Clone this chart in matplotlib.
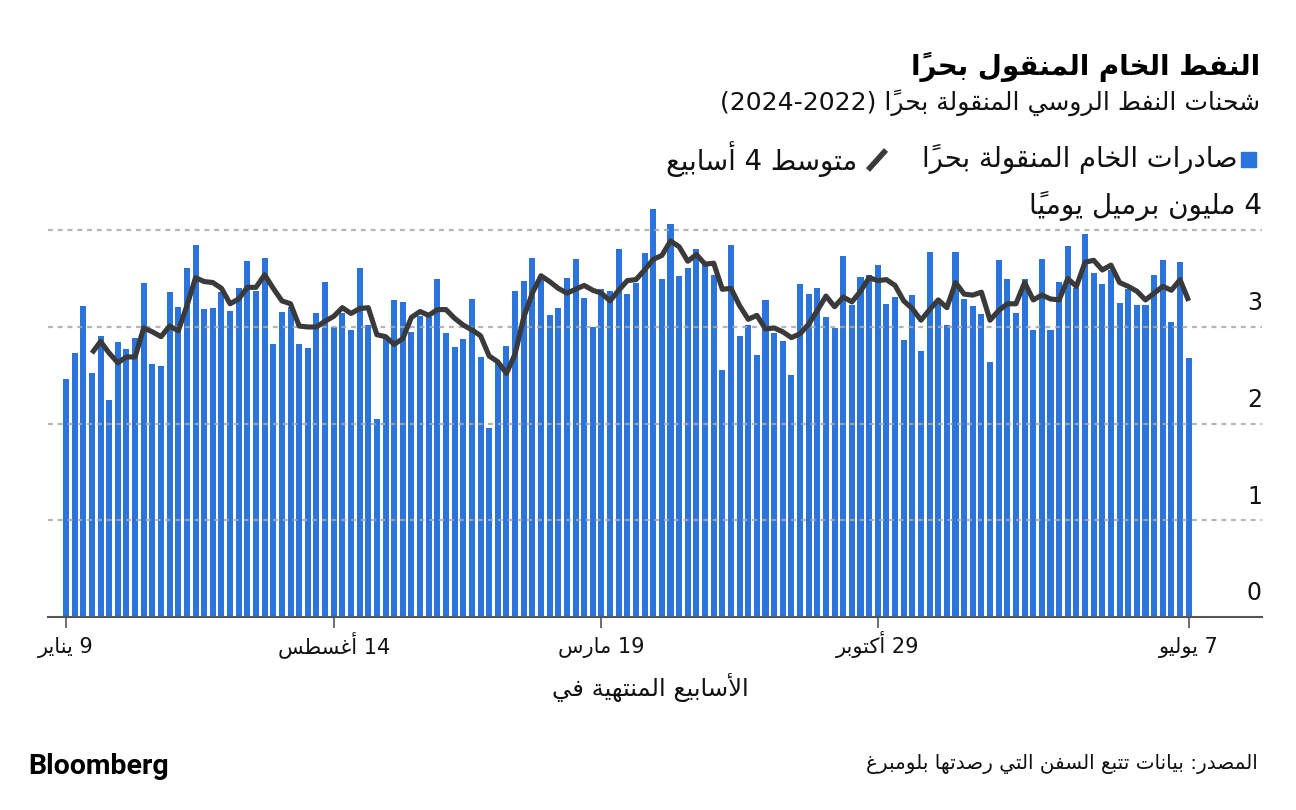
import matplotlib
matplotlib.use("Agg")
import matplotlib.pyplot as plt
from matplotlib.lines import Line2D
from matplotlib.patches import Rectangle

# ---- data (million barrels per day, weekly) ----
weekly_exports = [
    2.46, 2.73, 3.22, 2.52, 2.91, 2.24, 2.84, 2.77, 2.89, 3.46,
    2.62, 2.60, 3.36, 3.21, 3.61, 3.85, 3.19, 3.20, 3.36, 3.17,
    3.40, 3.68, 3.37, 3.71, 2.82, 3.16, 3.21, 2.82, 2.78, 3.14,
    3.47, 3.00, 3.14, 2.97, 3.61, 3.02, 2.05, 2.89, 3.28, 3.26,
    2.95, 3.11, 3.10, 3.50, 2.94, 2.79, 2.88, 3.29, 2.69, 1.96,
    2.63, 2.80, 3.37, 3.48, 3.71, 3.52, 3.12, 3.20, 3.51, 3.70,
    3.30, 3.00, 3.39, 3.37, 3.81, 3.34, 3.45, 3.77, 4.22, 3.50,
    4.07, 3.53, 3.61, 3.81, 3.66, 3.54, 2.56, 3.85, 2.91, 3.02,
    2.71, 3.28, 2.94, 2.85, 2.50, 3.44, 3.34, 3.40, 3.10, 2.99,
    3.73, 3.23, 3.52, 3.54, 3.64, 3.24, 3.31, 2.87, 3.33, 2.75,
    3.78, 3.25, 3.02, 3.78, 3.29, 3.22, 3.13, 2.64, 3.69, 3.50,
    3.14, 3.50, 2.97, 3.70, 2.97, 3.47, 3.84, 3.40, 3.96, 3.56,
    3.44, 3.59, 3.25, 3.39, 3.23, 3.23, 3.54, 3.69, 3.05, 3.67,
    2.68,
]

# 4-week average, starts at the 4th week
avg_start = 3
four_week_avg = [
    2.73, 2.85, 2.73, 2.63, 2.69, 2.69, 2.99, 2.95, 2.90, 3.01,
    2.96, 3.22, 3.51, 3.47, 3.46, 3.40, 3.24, 3.29, 3.41, 3.41,
    3.54, 3.40, 3.27, 3.24, 3.01, 3.00, 3.00, 3.06, 3.11, 3.20,
    3.14, 3.19, 3.20, 2.92, 2.90, 2.82, 2.88, 3.10, 3.16, 3.12,
    3.18, 3.18, 3.09, 3.02, 2.97, 2.91, 2.70, 2.64, 2.52, 2.72,
    3.10, 3.35, 3.53, 3.47, 3.40, 3.35, 3.39, 3.43, 3.38, 3.35,
    3.27, 3.38, 3.48, 3.49, 3.59, 3.70, 3.74, 3.89, 3.83, 3.68,
    3.75, 3.65, 3.66, 3.39, 3.40, 3.22, 3.08, 3.12, 2.98, 2.99,
    2.95, 2.89, 2.93, 3.03, 3.17, 3.32, 3.21, 3.31, 3.26, 3.37,
    3.51, 3.48, 3.49, 3.43, 3.27, 3.19, 3.07, 3.18, 3.28, 3.20,
    3.46, 3.34, 3.33, 3.36, 3.07, 3.17, 3.24, 3.24, 3.46, 3.28,
    3.33, 3.29, 3.28, 3.50, 3.42, 3.67, 3.69, 3.59, 3.64, 3.46,
    3.42, 3.37, 3.28, 3.35, 3.42, 3.38, 3.49, 3.27,
]

tick_weeks = [0, 31, 62, 94, 130]
tick_labels = ["9 يناير", "14 أغسطس", "19 مارس", "29 أكتوبر", "7 يوليو"]
y_values = [0, 1, 2, 3]

title = "النفط الخام المنقول بحراً"
subtitle = "شحنات النفط الروسي المنقولة بحراً (2022-2024)"
legend_bars = "صادرات الخام المنقولة بحراً"
legend_line = "متوسط 4 أسابيع"
y_unit = "4 مليون برميل يومياً"
x_title = "الأسابيع المنتهية في"
source = "المصدر: بيانات تتبع السفن التي رصدتها بلومبرغ"

BLUE = "#2b74dc"
DARK = "#3a3a3a"


# ---- minimal arabic shaping + right-to-left ordering (matplotlib has none) ----
FORMS = {
    "\u0621": (0xFE80, 1), "\u0622": (0xFE81, 2), "\u0623": (0xFE83, 2),
    "\u0624": (0xFE85, 2), "\u0625": (0xFE87, 2), "\u0626": (0xFE89, 4),
    "\u0627": (0xFE8D, 2), "\u0628": (0xFE8F, 4), "\u0629": (0xFE93, 2),
    "\u062A": (0xFE95, 4), "\u062B": (0xFE99, 4), "\u062C": (0xFE9D, 4),
    "\u062D": (0xFEA1, 4), "\u062E": (0xFEA5, 4), "\u062F": (0xFEA9, 2),
    "\u0630": (0xFEAB, 2), "\u0631": (0xFEAD, 2), "\u0632": (0xFEAF, 2),
    "\u0633": (0xFEB1, 4), "\u0634": (0xFEB5, 4), "\u0635": (0xFEB9, 4),
    "\u0636": (0xFEBD, 4), "\u0637": (0xFEC1, 4), "\u0638": (0xFEC5, 4),
    "\u0639": (0xFEC9, 4), "\u063A": (0xFECD, 4), "\u0641": (0xFED1, 4),
    "\u0642": (0xFED5, 4), "\u0643": (0xFED9, 4), "\u0644": (0xFEDD, 4),
    "\u0645": (0xFEE1, 4), "\u0646": (0xFEE5, 4), "\u0647": (0xFEE9, 4),
    "\u0648": (0xFEED, 2), "\u0649": (0xFEEF, 2), "\u064A": (0xFEF1, 4),
}
LAM_ALEF = {"\u0622": 0xFEF5, "\u0623": 0xFEF7, "\u0625": 0xFEF9, "\u0627": 0xFEFB}
MIRROR = {"(": ")", ")": "("}


def is_mark(c):
    return "\u064B" <= c <= "\u0652"


def ar(text):
    items = []  # [char, marks, lam-alef partner]
    i = 0
    while i < len(text):
        c = text[i]
        if is_mark(c) and items:
            items[-1][1] += c
        elif c == "\u0644" and i + 1 < len(text) and text[i + 1] in LAM_ALEF:
            items.append([c, "", text[i + 1]])
            i += 1
        else:
            items.append([c, "", None])
        i += 1

    def joins_left(it):
        return it[2] is None and it[0] in FORMS and FORMS[it[0]][1] == 4

    def arabic(it):
        return it[0] in FORMS

    clusters = []
    for k, it in enumerate(items):
        c = it[0]
        prev = k > 0 and joins_left(items[k - 1])
        if it[2] is not None:
            g = chr(LAM_ALEF[it[2]] + (1 if prev else 0))
        elif c in FORMS:
            base, n = FORMS[c]
            nxt = n == 4 and k + 1 < len(items) and arabic(items[k + 1])
            if n == 1:
                g = chr(base)
            elif n == 2:
                g = chr(base + (1 if prev else 0))
            elif prev and nxt:
                g = chr(base + 3)
            elif prev:
                g = chr(base + 1)
            elif nxt:
                g = chr(base + 2)
            else:
                g = chr(base)
        else:
            g = c
        clusters.append((g, it[1], c.isdigit()))

    runs = []
    for g, m, dig in clusters:
        if runs and runs[-1][0] == dig:
            runs[-1][1].append(g + m)
        else:
            runs.append([dig, [g + m]])
    out = []
    for dig, cl in reversed(runs):
        if dig:
            out.extend(cl)
        else:
            out.extend(MIRROR.get(x, x) for x in reversed(cl))
    return "".join(out)


FONT = "DejaVu Sans"
W, H = 1296, 810


def fx(px):
    return px / W


def fy(py):
    return 1 - py / H


fig = plt.figure(figsize=(12.96, 8.1), dpi=100)

# plot area: baseline at y=617px, 96.67px per million bbl/d, 8.636px per week
ppu = 96.67
ymax = 4.3
ax = fig.add_axes([fx(48), fy(617), fx(1262) - fx(48), ymax * ppu / H])
wk = 8.636
ax.set_xlim((48 - 66) / wk, (1262 - 66) / wk)
ax.set_ylim(0, ymax)

weeks = list(range(len(weekly_exports)))
ax.bar(weeks, weekly_exports, width=0.7, color=BLUE, zorder=1)
avg_weeks = list(range(avg_start, avg_start + len(four_week_avg)))
ax.plot(avg_weeks, four_week_avg, color=DARK, lw=3.7, solid_joinstyle="round",
        solid_capstyle="butt", zorder=4)

for v in [1, 2, 3, 4]:
    ax.axhline(v, color="#a8a8a8", lw=1.6, ls=(0, (2.2, 2.2)), alpha=0.85, zorder=2)

for s in ["top", "right", "left"]:
    ax.spines[s].set_visible(False)
ax.spines["bottom"].set_color("#555555")
ax.spines["bottom"].set_linewidth(1.5)
ax.spines["bottom"].set_zorder(5)

ax.set_yticks([])
ax.set_xticks(tick_weeks)
ax.set_xticklabels([])
ax.tick_params(axis="x", length=8, width=1.2, color="#555555")
for w, lab in zip(tick_weeks, tick_labels):
    ax.annotate(ar(lab), xy=(w, 0), xycoords=("data", "axes fraction"),
                xytext=(0, -26), textcoords="offset points", ha="center",
                va="baseline", fontsize=15, fontfamily=FONT, color="#111111")

for v in y_values:
    ax.annotate(str(v), xy=(1, v), xycoords=("axes fraction", "data"),
                xytext=(0, 12), textcoords="offset points", ha="right",
                va="baseline", fontsize=17, fontfamily=FONT, color="#111111")
ax.annotate(ar(y_unit), xy=(1, 4), xycoords=("axes fraction", "data"),
            xytext=(0, 12), textcoords="offset points", ha="right",
            va="baseline", fontsize=20, fontfamily=FONT, color="#111111")

# titles
fig.text(fx(1260), fy(67), ar(title), ha="right", va="center", fontsize=20,
         fontweight="bold", fontfamily=FONT, color="#000000")
fig.text(fx(1260), fy(103), ar(subtitle), ha="right", va="center", fontsize=18,
         fontfamily=FONT, color="#111111")

# legend
fig.patches.append(Rectangle((fx(1241), fy(167)), fx(15), 15 / H, color=BLUE,
                             transform=fig.transFigure, figure=fig))
fig.text(fx(1237), fy(159), ar(legend_bars), ha="right", va="center",
         fontsize=19.8, fontfamily=FONT, color="#111111")
fig.lines.append(Line2D([fx(868), fx(886)], [fy(170), fy(150)], color=DARK,
                        lw=4, solid_capstyle="butt", transform=fig.transFigure))
fig.text(fx(857), fy(159), ar(legend_line), ha="right", va="center",
         fontsize=19.8, fontfamily=FONT, color="#111111")

# axis title
fig.text(fx(650), fy(688), ar(x_title), ha="center", va="center", fontsize=17.5,
         fontfamily=FONT, color="#111111")

# footer
fig.text(fx(28), fy(766), "Bloomberg", ha="left", va="center", fontsize=20.5,
         fontweight="bold", fontfamily="Roboto", color="#000000")
fig.text(fx(1258), fy(764), ar(source), ha="right", va="center", fontsize=14.3,
         fontfamily=FONT, color="#111111")

fig.savefig("out.png", dpi=100, facecolor="white")
